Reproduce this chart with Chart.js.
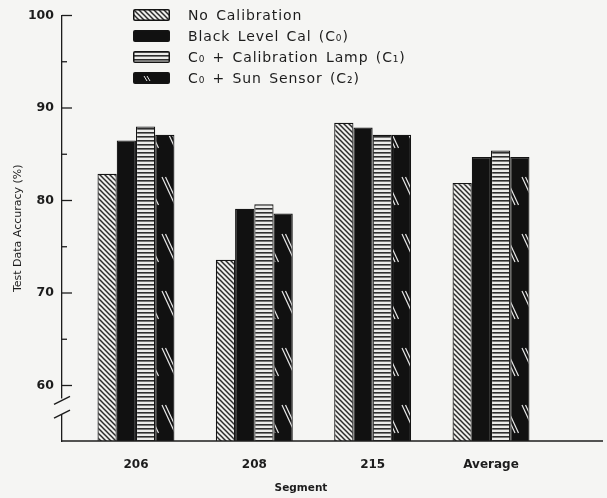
<!DOCTYPE html>
<html lang="en">
  <head>
    <meta charset="UTF-8" />
    <title>Test Data Accuracy by Segment</title>
    <script src="https://cdn.jsdelivr.net/npm/chart.js"></script>
    <style>
      body {
        margin: 0;
        background: #f5f5f3;
      }
      .wrap {
        position: relative;
        width: 607px;
        height: 498px;
      }
      #legend {
        position: absolute;
        left: 133px;
        top: 5px;
        font-family: "DejaVu Sans", sans-serif;
        font-size: 14px;
        color: #1c1c1c;
        letter-spacing: 0.9px;
        word-spacing: 2px;
      }
      .row {
        display: flex;
        align-items: center;
        height: 20.8px;
      }
      .row canvas {
        margin-right: 18px;
        border-radius: 2px;
      }
    </style>
  </head>
  <body>
    <div class="wrap">
      <canvas id="chart" width="607" height="498"></canvas>
      <div id="legend"></div>
    </div>

    <script>
      // Data
      const segments = ["206", "208", "215", "Average"];
      const noCalibration = [82.9, 73.6, 88.4, 81.9];
      const blackLevelCal = [86.5, 79.1, 87.9, 84.7];
      const calibrationLamp = [88.0, 79.6, 87.1, 85.4];
      const sunSensor = [87.1, 78.6, 87.1, 84.7];
      const yTickLabels = [60, 70, 80, 90, 100];

      const seriesNames = [
        "No Calibration",
        "Black Level Cal (C₀)",
        "C₀ + Calibration Lamp (C₁)",
        "C₀ + Sun Sensor (C₂)",
      ];

      const bg = "#f5f5f3";
      const ink = "#1c1c1c";

      // fill patterns used for the bars
      function makePattern(ctx, kind) {
        const tile = document.createElement("canvas");
        const t = tile.getContext("2d");
        if (kind === "diag") {
          tile.width = 5;
          tile.height = 5;
          t.fillStyle = "#eeeeec";
          t.fillRect(0, 0, 5, 5);
          t.strokeStyle = "#2a2a2a";
          t.lineWidth = 1.5;
          for (const o of [-5, 0, 5]) {
            t.beginPath();
            t.moveTo(o - 1, -1);
            t.lineTo(o + 6, 6);
            t.stroke();
          }
        } else if (kind === "solid") {
          return "#111";
        } else if (kind === "horiz") {
          tile.width = 4;
          tile.height = 4;
          t.fillStyle = "#ececea";
          t.fillRect(0, 0, 4, 4);
          t.fillStyle = "#2e2e2e";
          t.fillRect(0, 0, 4, 1.6);
        } else {
          tile.width = 20;
          tile.height = 57;
          t.fillStyle = "#111";
          t.fillRect(0, 0, 20, 57);
          t.strokeStyle = "#e8e8e8";
          t.lineWidth = 1.2;
          for (const o of [0, 3.5]) {
            t.beginPath();
            t.moveTo(2 + o, 6);
            t.lineTo(15 + o, 34);
            t.stroke();
          }
        }
        return ctx.createPattern(tile, "repeat");
      }

      const kinds = ["diag", "solid", "horiz", "streak"];
      const ctx = document.getElementById("chart").getContext("2d");
      const seriesValues = [noCalibration, blackLevelCal, calibrationLamp, sunSensor];

      const datasets = seriesValues.map((vals, k) => ({
        label: seriesNames[k],
        data: vals.map((v, i) => ({ x: i, y: v })),
        backgroundColor: makePattern(ctx, kinds[k]),
        borderColor: "#141414",
        borderWidth: 1.2,
        borderSkipped: "bottom",
        categoryPercentage: 0.65,
        barPercentage: 1.0,
      }));

      // page background, baseline, inward axis ticks and the axis break
      const decorations = {
        id: "decorations",
        beforeDraw(chart) {
          const c = chart.ctx;
          c.save();
          c.fillStyle = bg;
          c.fillRect(0, 0, chart.width, chart.height);
          c.restore();
        },
        afterDraw(chart) {
          const c = chart.ctx;
          const y = chart.scales.y;
          const area = chart.chartArea;
          const x0 = area.left;
          c.save();
          c.strokeStyle = ink;
          c.lineWidth = 1.3;
          // baseline runs on past the last group
          c.beginPath();
          c.moveTo(x0, area.bottom);
          c.lineTo(chart.width - 4, area.bottom);
          c.stroke();
          // ticks pointing into the plot
          y.ticks.forEach((t) => {
            if (t.value < 60) return;
            const py = y.getPixelForValue(t.value);
            const len = t.value % 10 === 0 ? 10 : 5;
            c.beginPath();
            c.moveTo(x0, py);
            c.lineTo(x0 + len, py);
            c.stroke();
          });
          // broken axis
          const yA = y.getPixelForValue(58.6);
          const yB = y.getPixelForValue(56.9);
          c.fillStyle = bg;
          c.fillRect(x0 - 3, yA, 6, yB - yA);
          c.lineWidth = 1.4;
          for (const py of [yA + 2, yB]) {
            c.beginPath();
            c.moveTo(x0 - 8, py + 4);
            c.lineTo(x0 + 8, py - 4);
            c.stroke();
          }
          c.restore();
        },
      };

      new Chart(ctx, {
        type: "bar",
        data: { datasets: datasets },
        options: {
          responsive: false,
          animation: false,
          devicePixelRatio: 1,
          layout: { padding: { top: 15, right: 67, left: 0, bottom: 0 } },
          plugins: {
            legend: { display: false },
            tooltip: { enabled: false },
          },
          scales: {
            x: {
              type: "linear",
              offset: false,
              min: -0.625,
              max: 3.414,
              grid: { display: false, drawTicks: false },
              border: { display: false },
              afterBuildTicks: (s) => {
                s.ticks = segments.map((_, i) => ({ value: i }));
              },
              afterFit: (s) => {
                s.height = 57;
              },
              ticks: {
                padding: 17,
                color: ink,
                font: { family: "DejaVu Sans", size: 12, weight: "bold" },
                callback: (v) => segments[v],
                maxRotation: 0,
              },
              title: {
                display: true,
                text: "Segment",
                color: ink,
                font: { family: "DejaVu Sans", size: 10.5, weight: "bold" },
                padding: { top: 0, bottom: 3 },
              },
            },
            y: {
              min: 54,
              max: 100,
              grid: { display: false, drawTicks: false },
              border: { display: true, color: ink, width: 1.3 },
              afterFit: (s) => {
                s.width = 62;
              },
              ticks: {
                stepSize: 5,
                includeBounds: false,
                padding: 8,
                color: ink,
                font: { family: "DejaVu Sans", size: 12.5, weight: "bold" },
                callback: (v) => (yTickLabels.includes(v) ? String(v) : ""),
              },
              title: {
                display: true,
                text: "Test Data Accuracy (%)",
                color: ink,
                font: { family: "DejaVu Sans", size: 11 },
                padding: { top: 12, bottom: 0 },
              },
            },
          },
        },
        plugins: [decorations],
      });

      // legend stacked in one column, like the original
      const legend = document.getElementById("legend");
      seriesNames.forEach((name, k) => {
        const row = document.createElement("div");
        row.className = "row";
        const sw = document.createElement("canvas");
        sw.width = 37;
        sw.height = 12;
        const sc = sw.getContext("2d");
        sc.fillStyle = makePattern(sc, kinds[k] === "streak" ? "solid" : kinds[k]);
        sc.fillRect(0, 0, 37, 12);
        sc.strokeStyle = "#141414";
        sc.lineWidth = 1.5;
        sc.strokeRect(0.75, 0.75, 35.5, 10.5);
        if (kinds[k] === "streak") {
          sc.strokeStyle = "#e8e8e8";
          sc.lineWidth = 1;
          for (const o of [0, 3]) {
            sc.beginPath();
            sc.moveTo(11 + o, 4);
            sc.lineTo(14 + o, 9);
            sc.stroke();
          }
        }
        const label = document.createElement("span");
        label.textContent = name;
        row.appendChild(sw);
        row.appendChild(label);
        legend.appendChild(row);
      });
    </script>
  </body>
</html>
